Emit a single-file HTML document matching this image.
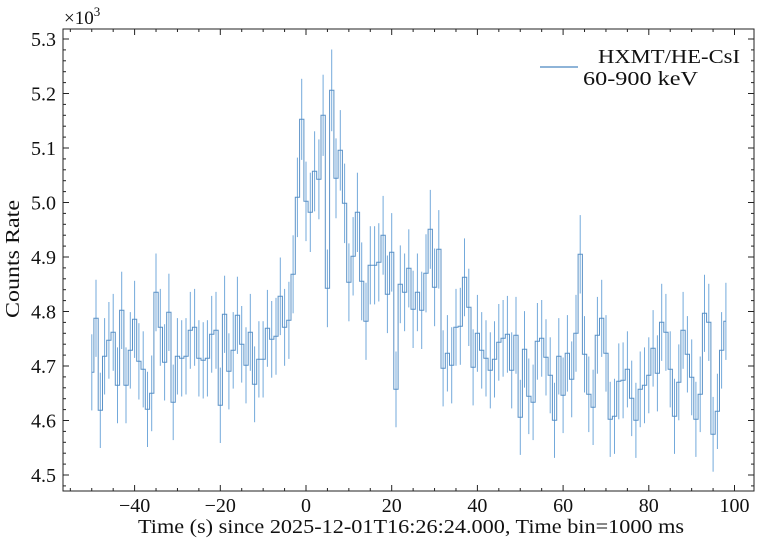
<!DOCTYPE html>
<html><head><meta charset="utf-8">
<style>
html,body{margin:0;padding:0;background:#fff;}
svg{display:block;font-family:"Liberation Serif","DejaVu Serif",serif;}
</style></head>
<body>
<svg id="s" width="764" height="545" viewBox="0 0 764 545" xmlns="http://www.w3.org/2000/svg">
<rect width="764" height="545" fill="#fff"/>
<g id="data"></g>
<rect x="63" y="29" width="691" height="462" fill="none" stroke="#222" stroke-width="1"/>
<g id="ticks" stroke="#222" stroke-width="1"></g>
<g id="labels" font-size="20" fill="#111"></g>
<text x="64" y="24" font-size="19" fill="#111">×10<tspan dy="-8" font-size="13">3</tspan></text>
<line x1="540" y1="67" x2="578" y2="67" stroke="#4a86c0" stroke-width="1.2"/>
<text x="598" y="63" font-size="20" fill="#111" textLength="142" lengthAdjust="spacingAndGlyphs">HXMT/HE-CsI</text>
<text x="583" y="85" font-size="20" fill="#111" textLength="115" lengthAdjust="spacingAndGlyphs">60-900 keV</text>
<text x="138" y="533" font-size="20" fill="#111" textLength="546" lengthAdjust="spacingAndGlyphs">Time (s) since 2025-12-01T16:26:24.000, Time bin=1000 ms</text>
<text transform="translate(19,318) rotate(-90)" font-size="20" fill="#111" textLength="118" lengthAdjust="spacingAndGlyphs">Counts Rate</text>
</svg>
<script>
var z1=[427,265,541,379,331,307,466,241,466,361,268,394,418,538,490,187,292,397,247,517,379,385,379,301,292,385,391,385,313,301,526,253,424,361,256,343,406,307,463,388,388,295,328,319,199,292,271,133];
var z2=[382,148,394,427,304,328,136,655,61,325,241,400,637,559,427,634,754,586,586,577,496,673,547,958,643,667,595,718,667,721,610,478,652,538,895,850,886,772,769,622,712,892,790,841,865,901,868,817,805,793,901,796];
var z3=[622,418,559,577,394,385,442,496,631,439,556,430,508,370,133,433,553,592,376,325,430,628,619,514,511,478,565,631,538,526,496,415,490,337,367,478,619,517,361,433,502,628,553,310,337,673,604,421,334];
var ys=[];
z1.forEach(function(v){ys.push(230+v/3);});
z2.forEach(function(v){ys.push(70+v/3);});
z3.forEach(function(v){ys.push(210+v/3);});
var X=function(t){return 306+4.285*t;};
var d="",eb="";
for(var i=0;i<ys.length;i++){
  var t=-50+i, xc=X(t), x0=(i==0)?xc:X(t-0.5), x1=(i==ys.length-1)?xc:X(t+0.5);
  if(i==0) d+="M"+x0.toFixed(1)+" "+ys[i].toFixed(1);
  else d+="L"+x0.toFixed(1)+" "+ys[i].toFixed(1);
  d+="L"+x1.toFixed(1)+" "+ys[i].toFixed(1);
  var e=37+(475-ys[i])*0.01;
  eb+='<line x1="'+xc.toFixed(1)+'" y1="'+(ys[i]-e).toFixed(1)+'" x2="'+xc.toFixed(1)+'" y2="'+(ys[i]+e).toFixed(1)+'"/>';
}
document.getElementById("data").innerHTML='<g stroke="#5b9bd5" stroke-width="1" opacity="0.85">'+eb+'</g><path d="'+d+'" fill="none" stroke="#4a86c0" stroke-width="1" opacity="0.9"/>';
var tk="",lb="";
for(var t=-55;t<=104;t+=5){
  var x=X(t); if(x<63||x>754) continue;
  var maj=(t%20==0);var L=maj?6:3;
  tk+='<line x1="'+x+'" y1="491" x2="'+x+'" y2="'+(491-L)+'"/><line x1="'+x+'" y1="29" x2="'+x+'" y2="'+(29+L)+'"/>';
  if(maj) lb+='<text x="'+x+'" y="512" text-anchor="middle">'+(t<0?'\u2212'+(-t):t)+'</text>';
}
for(var k=0;k<=45;k++){
  var v=4.48+k*0.02; var y=475-(v-4.5)*545; if(y<29||y>491) continue;
  var maj=(Math.round(v*100)%10==0);var L=maj?6:3;
  tk+='<line x1="63" y1="'+y+'" x2="'+(63+L)+'" y2="'+y+'"/><line x1="754" y1="'+y+'" x2="'+(754-L)+'" y2="'+y+'"/>';
  if(maj) lb+='<text x="56" y="'+(y+7)+'" text-anchor="end">'+v.toFixed(1)+'</text>';
}
document.getElementById("ticks").innerHTML=tk;
document.getElementById("labels").innerHTML=lb;
</script>
</body></html>
